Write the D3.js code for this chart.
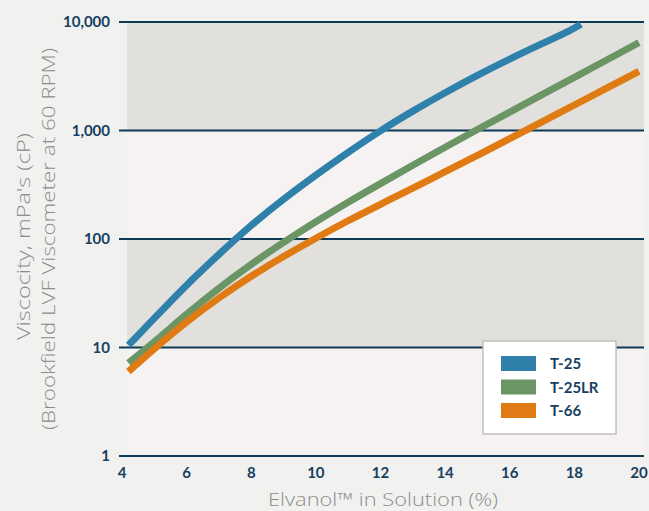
<!DOCTYPE html>
<html>
<head>
<meta charset="utf-8">
<script src="https://cdn.jsdelivr.net/npm/d3@7"></script>
<style>
	body { margin: 0; background: #f1f1f0; }
	svg { display: block; font-family: "Lato", "Open Sans", sans-serif; }
</style>
</head>
<body>
<svg id="chart" width="649" height="511"></svg>
<script>
// data
const concT25 = [4.2, 5, 6, 7, 8, 9, 10, 11, 12, 13, 14, 15, 16, 17, 18, 18.2];
const viscT25 = [10.5, 18.6, 38, 72.4, 135, 234, 389, 631, 1000, 1514, 2239, 3236, 4571, 6310, 8710, 9550];
const concT25LR = [4.2, 5, 6, 7, 8, 9, 10, 11, 12, 13, 14, 15, 16, 17, 18, 19, 20];
const viscT25LR = [7.2, 11.2, 20.4, 35.5, 58.9, 93.3, 144.5, 219, 324, 479, 700, 1023, 1479, 2138, 3090, 4467, 6457];
const concT66 = [4.2, 5, 6, 7, 8, 9, 10, 11, 12, 13, 14, 15, 16, 17, 18, 19, 20];
const viscT66 = [6.0, 9.8, 17.4, 28.8, 45.7, 69.2, 102, 148, 209, 295, 417, 589, 841, 1202, 1718, 2455, 3508];

const seriesNames = ["T-25", "T-25LR", "T-66"];
const seriesColors = ["#2f80ab", "#6b9565", "#e07a12"];
const xTicks = [4, 6, 8, 10, 12, 14, 16, 18, 20];
const yTicks = [1, 10, 100, 1000, 10000];

const svg = d3.select("#chart");
const plotLeft = 122, plotRight = 639, plotTop = 22, plotBottom = 456;

const x = d3.scaleLinear().domain([4, 20]).range([plotLeft, plotRight]);
const y = d3.scaleLog().domain([1, 10000]).range([plotBottom, plotTop]);

// alternating bands
const bandColors = ["#f5f2f1", "#e1e0dc", "#f5f2f1", "#e1e0dc"];
for (let i = 0; i < yTicks.length - 1; i++) {
	svg.append("rect")
		.attr("x", 127).attr("width", 644 - 127)
		.attr("y", y(yTicks[i + 1])).attr("height", y(yTicks[i]) - y(yTicks[i + 1]))
		.attr("fill", bandColors[i]);
}

// horizontal grid lines
svg.append("g").selectAll("line").data(yTicks).join("line")
	.attr("x1", 119).attr("x2", 644)
	.attr("y1", d => y(d)).attr("y2", d => y(d))
	.attr("stroke", "#0e3a58").attr("stroke-width", 2);

// y tick labels
svg.append("g").selectAll("text").data(yTicks).join("text")
	.attr("x", 110).attr("y", d => y(d) + 5)
	.attr("text-anchor", "end")
	.attr("font-size", 15).attr("font-weight", "bold")
	.attr("fill", "#173f5f")
	.text(d => d3.format(",")(d));

// x tick labels
svg.append("g").selectAll("text").data(xTicks).join("text")
	.attr("x", d => x(d)).attr("y", 478)
	.attr("text-anchor", "middle")
	.attr("font-size", 15).attr("font-weight", "bold")
	.attr("fill", "#173f5f")
	.text(d => d);

// curves
const series = [
	{ conc: concT25, visc: viscT25 },
	{ conc: concT25LR, visc: viscT25LR },
	{ conc: concT66, visc: viscT66 }
];
const line = d3.line().x(d => x(d[0])).y(d => y(d[1])).curve(d3.curveBasis);
series.forEach((s, i) => {
	svg.append("path")
		.datum(s.conc.map((c, j) => [c, s.visc[j]]))
		.attr("d", line)
		.attr("fill", "none")
		.attr("stroke", seriesColors[i])
		.attr("stroke-width", 7);
});

// legend
const legend = svg.append("g");
legend.append("rect")
	.attr("x", 483).attr("y", 341).attr("width", 133).attr("height", 93)
	.attr("fill", "#ffffff").attr("stroke", "#c0c0c0").attr("stroke-width", 1.5);
seriesNames.forEach((name, i) => {
	legend.append("rect")
		.attr("x", 501).attr("y", 356 + i * 23.5).attr("width", 35).attr("height", 15)
		.attr("fill", seriesColors[i]);
	legend.append("text")
		.attr("x", 550).attr("y", 369 + i * 23.5)
		.attr("font-size", 15).attr("font-weight", "bold")
		.attr("fill", "#173f5f")
		.text(name);
});

// axis titles
svg.append("text")
	.attr("transform", "translate(30,340) rotate(-90)")
	.attr("font-family", "Open Sans")
	.attr("font-size", 18).attr("font-weight", 300)
	.attr("textLength", 207).attr("lengthAdjust", "spacingAndGlyphs")
	.attr("fill", "#8c8c8c")
	.text("Viscocity, mPa's (cP)");
svg.append("text")
	.attr("transform", "translate(55,430) rotate(-90)")
	.attr("font-family", "Open Sans")
	.attr("font-size", 18).attr("font-weight", 300)
	.attr("textLength", 382).attr("lengthAdjust", "spacingAndGlyphs")
	.attr("fill", "#8c8c8c")
	.text("(Brookfield LVF Viscometer at 60 RPM)");
svg.append("text")
	.attr("x", 268).attr("y", 506)
	.attr("font-family", "Open Sans")
	.attr("font-size", 18).attr("font-weight", 300)
	.attr("textLength", 230).attr("lengthAdjust", "spacingAndGlyphs")
	.attr("fill", "#8c8c8c")
	.text("Elvanol™ in Solution (%)");
</script>
</body>
</html>
